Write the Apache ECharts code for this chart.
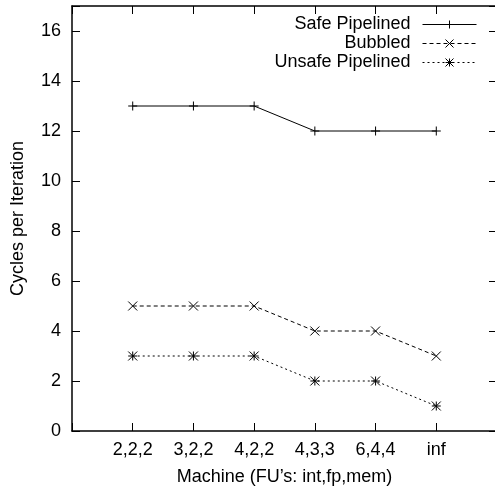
<!DOCTYPE html>
<html>
<head>
<meta charset="utf-8">
<script src="https://cdn.jsdelivr.net/npm/echarts@6/dist/echarts.min.js"></script>
<style>
html,body{margin:0;padding:0;background:#fff;}
#chart{width:495px;height:492px;}
</style>
</head>
<body>
<div id="chart"></div>
<script>
const categories = ['2,2,2', '3,2,2', '4,2,2', '4,3,3', '6,4,4', 'inf'];
const safePipelined = [13, 13, 13, 12, 12, 12];
const bubbled = [5, 5, 5, 4, 4, 3];
const unsafePipelined = [3, 3, 3, 2, 2, 1];
const yTicks = [0, 2, 4, 6, 8, 10, 12, 14, 16];

const FONT = 'Liberation Sans';
const FS = 18;
const plusSym = 'path://M0,5L10,5M5,0L5,10';
const crossSym = 'path://M0,0L10,10M10,0L0,10';
const starSym = 'path://M0,0L10,10M10,0L0,10M5,0L5,10M0,5L10,5';

function toPoints(vals) { return vals.map((v, i) => [i + 1, v]); }

const chart = echarts.init(document.getElementById('chart'), null, {renderer: 'canvas'});

const axisLineStyle = {color: '#000', width: 1.5};
const tickStyle = {color: '#000', width: 1};

function mkSeries(name, vals, sym, type) {
  return {
    name: name,
    type: 'line',
    data: toPoints(vals),
    symbol: sym,
    symbolSize: 9,
    showSymbol: true,
    animation: false,
    lineStyle: {color: '#000', width: 1, type: type},
    itemStyle: {color: '#000', borderColor: '#000', borderWidth: 1}
  };
}

chart.setOption({
  animation: false,
  backgroundColor: '#fff',
  textStyle: {fontFamily: FONT},
  grid: {left: 72, top: 6, width: 425, height: 425, containLabel: false, outerBoundsMode: 'none'},
  legend: {
    orient: 'vertical',
    right: 13,
    top: 10,
    align: 'right',
    itemWidth: 54,
    itemHeight: 10,
    itemGap: 0,
    lineStyle: {width: 1},
    itemStyle: {borderWidth: 1},
    textStyle: {fontFamily: FONT, fontSize: FS, color: '#000', lineHeight: 19, padding: [0, 7, 0, 0]},
    data: ['Safe Pipelined', 'Bubbled', 'Unsafe Pipelined']
  },
  xAxis: [{
    type: 'value',
    min: 0, max: categories.length + 1, interval: 1,
    position: 'bottom',
    name: 'Machine (FU\u2019s: int,fp,mem)',
    nameLocation: 'middle',
    nameGap: 37,
    nameTextStyle: {fontFamily: FONT, fontSize: FS, color: '#000'},
    axisLine: {show: true, onZero: false, lineStyle: axisLineStyle},
    axisTick: {show: true, inside: true, length: 8, lineStyle: tickStyle},
    axisLabel: {
      show: true, margin: 10, fontFamily: FONT, fontSize: FS, color: '#000',
      formatter: v => (v >= 1 && v <= categories.length) ? categories[v - 1] : ''
    },
    splitLine: {show: false}
  }, {
    type: 'value',
    min: 0, max: categories.length + 1, interval: 1,
    position: 'top',
    axisLine: {show: true, onZero: false, lineStyle: axisLineStyle},
    axisTick: {show: true, inside: true, length: 8, lineStyle: tickStyle},
    axisLabel: {show: false},
    splitLine: {show: false}
  }],
  yAxis: [{
    type: 'value',
    min: 0, max: 17, interval: 2,
    position: 'left',
    name: 'Cycles per Iteration',
    nameLocation: 'middle',
    nameGap: 45,
    nameTextStyle: {fontFamily: FONT, fontSize: FS, color: '#000'},
    axisLine: {show: true, onZero: false, lineStyle: axisLineStyle},
    axisTick: {show: true, inside: true, length: 8, lineStyle: tickStyle},
    axisLabel: {
      show: true, margin: 11, fontFamily: FONT, fontSize: FS, color: '#000',
      formatter: v => yTicks.indexOf(v) >= 0 ? String(v) : ''
    },
    splitLine: {show: false}
  }, {
    type: 'value',
    min: 0, max: 17, interval: 2,
    position: 'right',
    axisLine: {show: true, onZero: false, lineStyle: axisLineStyle},
    axisTick: {show: true, inside: true, length: 8, lineStyle: tickStyle},
    axisLabel: {show: false},
    splitLine: {show: false}
  }],
  series: [
    mkSeries('Safe Pipelined', safePipelined, plusSym, 'solid'),
    mkSeries('Bubbled', bubbled, crossSym, [4, 3]),
    mkSeries('Unsafe Pipelined', unsafePipelined, starSym, [2, 3])
  ]
});
</script>
</body>
</html>
